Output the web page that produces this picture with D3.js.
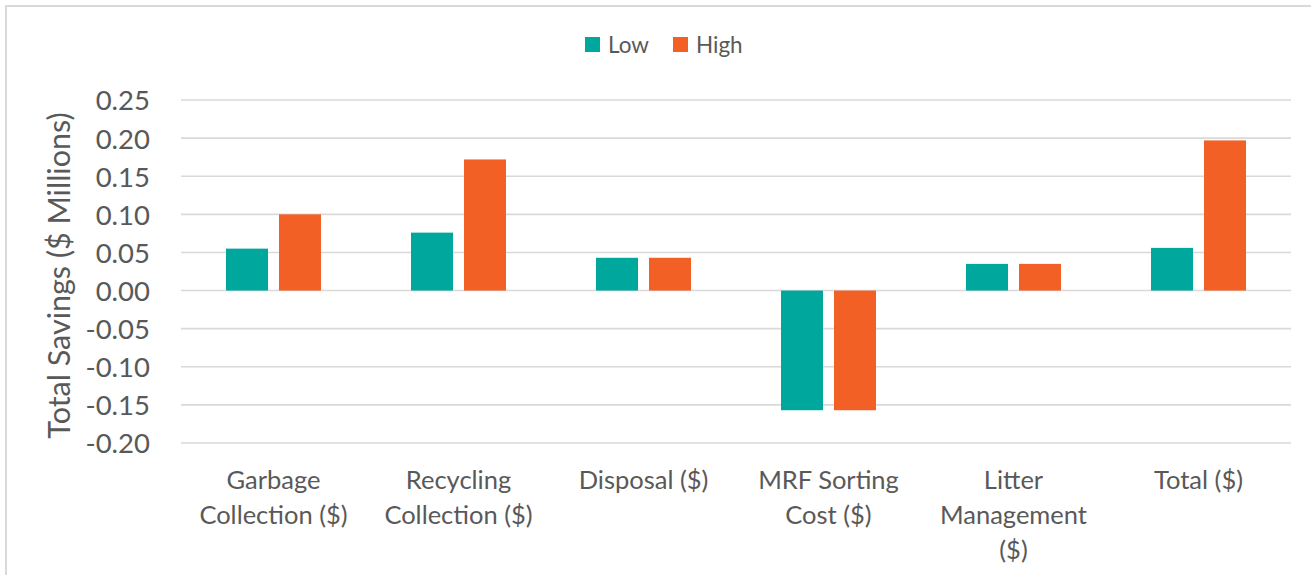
<!DOCTYPE html>
<html>
<head>
<meta charset="utf-8">
<script src="https://cdn.jsdelivr.net/npm/d3@7"></script>
<style>
  html, body { margin: 0; padding: 0; background: #ffffff; }
  svg { display: block; }
  text { font-family: Lato, "Open Sans", sans-serif; fill: #595959; }
</style>
</head>
<body>
<svg id="chart" width="1311" height="575"></svg>
<script>
const categories = ["Garbage Collection ($)", "Recycling Collection ($)", "Disposal ($)", "MRF Sorting Cost ($)", "Litter Management ($)", "Total ($)"];
const series = ["Low", "High"];
const lowValues = [0.055, 0.076, 0.043, -0.157, 0.035, 0.056];
const highValues = [0.100, 0.172, 0.043, -0.157, 0.035, 0.197];
const yTicks = [-0.20, -0.15, -0.10, -0.05, 0.00, 0.05, 0.10, 0.15, 0.20, 0.25];
const colors = ["#00A79D", "#F26026"];
const yTitle = "Total Savings ($ Millions)";

const svg = d3.select("#chart");

// outer border (right/bottom edges clipped like the reference)
svg.append("rect")
  .attr("x", 6).attr("y", 6).attr("width", 1340).attr("height", 620)
  .attr("fill", "none").attr("stroke", "#D9D9D9").attr("stroke-width", 2);

const plot = { left: 181, right: 1291, top: 100, bottom: 443 };

const x0 = d3.scaleBand().domain(categories).range([plot.left, plot.right]).paddingInner(0).paddingOuter(0);
const x1 = d3.scaleBand().domain(series).range([0, x0.bandwidth()]).paddingInner(0.2075).paddingOuter(0.849);
const y = d3.scaleLinear().domain([-0.20, 0.25]).range([plot.bottom, plot.top]);

// gridlines
svg.append("g").selectAll("line").data(yTicks).join("line")
  .attr("x1", plot.left).attr("x2", plot.right)
  .attr("y1", d => y(d)).attr("y2", d => y(d))
  .attr("stroke", "#D9D9D9").attr("stroke-width", 1.6);

// y axis labels via d3 axis
const fmt = d => d3.format(".2f")(d).replace("\u2212", "-");
const yAxis = d3.axisLeft(y).tickValues(yTicks).tickFormat(fmt).tickSize(0).tickPadding(0);
const yg = svg.append("g").attr("transform", `translate(${plot.left - 31},0)`).call(yAxis);
yg.select(".domain").remove();
yg.selectAll("text")
  .style("font-family", "Lato, 'Open Sans', sans-serif")
  .style("font-size", "27.5px")
  .attr("fill", "#595959")
  .attr("dy", "0.36em");

// y axis title
svg.append("text")
  .attr("transform", `translate(70,${(plot.top + plot.bottom) / 2 + 4}) rotate(-90)`)
  .attr("text-anchor", "middle")
  .style("font-size", "30.5px")
  .text(yTitle);

// bars
const rows = categories.map((c, i) => ({ cat: c, vals: [lowValues[i], highValues[i]] }));
const groups = svg.append("g").selectAll("g").data(rows).join("g")
  .attr("transform", d => `translate(${x0(d.cat)},0)`);
groups.selectAll("rect").data(d => d.vals.map((v, j) => ({ s: series[j], v, j }))).join("rect")
  .attr("x", d => x1(d.s))
  .attr("width", x1.bandwidth())
  .attr("y", d => y(Math.max(0, d.v)))
  .attr("height", d => Math.abs(y(d.v) - y(0)))
  .attr("fill", d => colors[d.j]);

// x axis labels via d3 axis, then wrap
const xAxis = d3.axisBottom(x0).tickSize(0).tickPadding(0);
const xg = svg.append("g").attr("transform", `translate(0,${plot.bottom + 46})`).call(xAxis);
xg.select(".domain").remove();
xg.selectAll("text")
  .style("font-family", "Lato, 'Open Sans', sans-serif")
  .style("font-size", "25.5px")
  .attr("fill", "#595959")
  .attr("dy", 0)
  .call(wrap, 172);

function wrap(sel, width) {
  sel.each(function () {
    const t = d3.select(this);
    const words = t.text().split(/\s+/);
    t.text(null);
    let line = [];
    let tspan = t.append("tspan").attr("x", 0).attr("dy", 0);
    for (const w of words) {
      line.push(w);
      tspan.text(line.join(" "));
      if (tspan.node().getComputedTextLength() > width && line.length > 1) {
        line.pop();
        tspan.text(line.join(" "));
        line = [w];
        tspan = t.append("tspan").attr("x", 0).attr("dy", "35px").text(w);
      }
    }
  });
}

// legend
const legend = svg.append("g");
const legendX = [585, 673];
series.forEach((s, i) => {
  legend.append("rect").attr("x", legendX[i]).attr("y", 37).attr("width", 15).attr("height", 15).attr("fill", colors[i]);
  legend.append("text").attr("x", legendX[i] + 23).attr("y", 53).style("font-size", "22.5px").text(s);
});
</script>
</body>
</html>
